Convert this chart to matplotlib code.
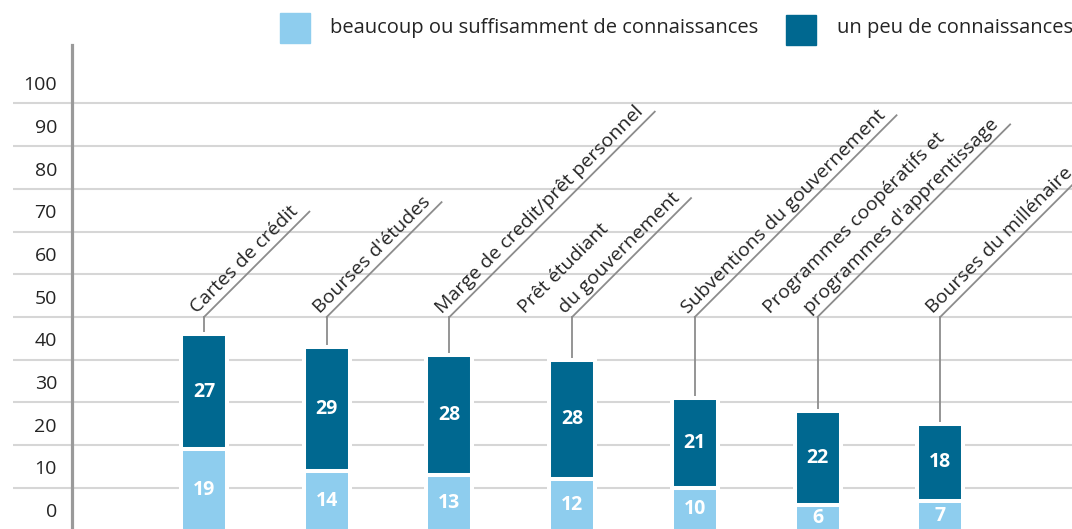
import numpy as np
import matplotlib.pyplot as plt
import matplotlib.transforms as mtransforms
from matplotlib.patches import Rectangle

# Colors
LIGHT = '#8ECDEE'
DARK = '#006890'
GRID = '#D6D6D6'
AXIS = '#9A9A9A'
LEADER = '#8C8C8C'
TEXT = '#242424'

plt.rcParams['font.family'] = ['Open Sans', 'DejaVu Sans']

categories = ['Cartes de crédit', "Bourses d'études", 'Marge de credit/prêt personnel',
              'Prêt étudiant\ndu gouvernement', 'Subventions du gouvernement',
              "Programmes coopératifs et\nprogrammes d'apprentissage", 'Bourses du millénaire']
beaucoup = [19, 14, 13, 12, 10, 6, 7]
un_peu = [27, 29, 28, 28, 21, 22, 18]
y_ticks = list(range(0, 101, 10))
legend_labels = ['beaucoup ou suffisamment de connaissances', 'un peu de connaissances']

W, H = 1072, 529
fig = plt.figure(figsize=(W / 100, H / 100), dpi=100)
ax = fig.add_axes([13 / W, -1.5 / H, (W - 13) / W, 485.5 / H])

x = np.arange(len(categories))
tops = np.array(beaucoup) + np.array(un_peu)
ax.bar(x, beaucoup, width=0.375, color=LIGHT, edgecolor='white', linewidth=2.9, zorder=3)
ax.bar(x, un_peu, bottom=beaucoup, width=0.375, color=DARK, edgecolor='white', linewidth=2.9, zorder=3)

ax.set_xlim(-1.557, 7.074)
ax.set_ylim(0, 113.7)
ax.set_yticks(y_ticks[1:])
ax.yaxis.grid(True, color=GRID, linewidth=1.5, zorder=0)
ax.set_axisbelow(True)
ax.tick_params(left=False, labelleft=False, bottom=False, labelbottom=False)
for s in ax.spines.values():
    s.set_visible(False)

# vertical axis line
ax.plot([0.0557, 0.0557], [0, 1], transform=ax.transAxes, color=AXIS, lw=2.3, clip_on=False, zorder=4)

# y labels sit above their grid line
blend = mtransforms.blended_transform_factory(ax.transAxes, ax.transData)
for v in y_ticks:
    ax.text(0.0415, v + 4.3, str(v), transform=blend, ha='right', va='center',
            fontsize=14, color=TEXT)

# values in the bars
for i in x:
    ax.text(i, beaucoup[i] / 2, str(beaucoup[i]), ha='center', va='center', color='white',
            fontsize=14, fontweight='bold', zorder=5, clip_on=False)
    ax.text(i, beaucoup[i] + un_peu[i] / 2, str(un_peu[i]), ha='center', va='center',
            color='white', fontsize=14, fontweight='bold', zorder=5)

# category labels with leader lines
bend = 50
lab_size = 14
r = fig.canvas.get_renderer()
s2 = np.sqrt(2)
a0, p0, shift = -3, 7, 40
for i, lab in enumerate(categories):
    lines = lab.split('\n')
    ax.plot([i, i], [tops[i], bend], color=LEADER, lw=1.3, zorder=2)
    tmp = ax.text(0, 0, lines[-1], fontsize=lab_size)
    w = tmp.get_window_extent(r).width
    tmp.remove()
    L = a0 + w + 8
    pb = ax.transData.transform((i, bend))
    pe = ax.transData.inverted().transform(pb + np.array([L / s2, L / s2]))
    ax.plot([i, pe[0]], [bend, pe[1]], color=LEADER, lw=1.3, zorder=2, clip_on=False)
    for k, line in enumerate(reversed(lines)):
        dx = (a0 - p0) / s2 - shift * k
        dy = (a0 + p0) / s2
        ax.annotate(line, xy=(i, bend), xytext=(dx * 0.72, dy * 0.72), textcoords='offset points',
                    rotation=45, rotation_mode='anchor', ha='left', va='baseline',
                    fontsize=lab_size, color=TEXT, annotation_clip=False)

# legend
fig.add_artist(Rectangle((280 / W, 1 - 43 / H), 30 / W, 30 / H, transform=fig.transFigure,
                         color=LIGHT))
fig.text(330 / W, 1 - 28 / H, legend_labels[0], ha='left', va='center', fontsize=14.5, color=TEXT)
fig.add_artist(Rectangle((786 / W, 1 - 45 / H), 30 / W, 30 / H, transform=fig.transFigure,
                         color=DARK))
fig.text(837 / W, 1 - 28 / H, legend_labels[1], ha='left', va='center', fontsize=14.5, color=TEXT)

fig.savefig('out.png', dpi=100)
